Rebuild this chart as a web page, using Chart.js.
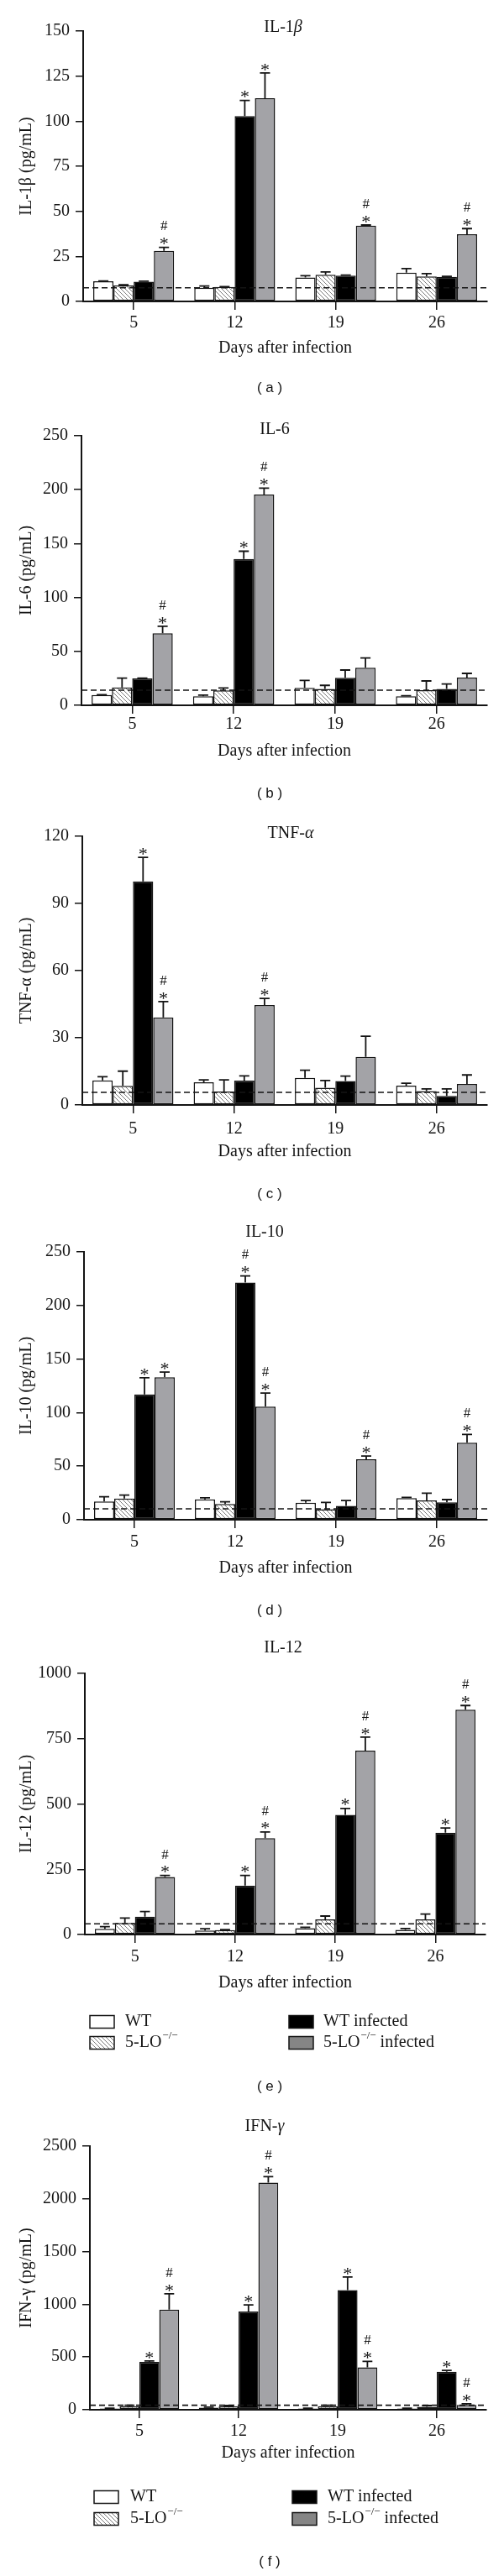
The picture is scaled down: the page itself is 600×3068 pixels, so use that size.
<!DOCTYPE html>
<html>
<head>
<meta charset="utf-8">
<script src="https://cdn.jsdelivr.net/npm/chart.js@4.4.1/dist/chart.umd.min.js"></script>
<style>
  html, body { margin: 0; padding: 0; background: #fff; }
  #fig { position: relative; width: 600px; height: 3068px; }
  #fig canvas { position: absolute; left: 0; }
</style>
</head>
<body>
<div id="fig"></div>
<script>
/* Cytokine levels after infection, six panels (a-f), 4 groups x 4 days. */

const DAYS = ['5', '12', '19', '26'];
const GROUPS = ['WT', '5-LO−/−', 'WT infected', '5-LO−/− infected'];

// rows = groups (WT, 5-LO, WT infected, 5-LO infected), cols = days
// (a) IL-1β
const IL1B_MEAN = [[11.2, 7.6, 13.3, 15.9], [8.9, 8.0, 14.8, 13.9], [10.9, 102.8, 14.3, 13.6], [28.1, 112.7, 42.1, 37.3]];
const IL1B_SEM  = [[0.2, 1.0, 1.0, 2.3], [0.4, 0.2, 1.6, 1.5], [0.3, 8.7, 0.3, 0.3], [1.9, 14.1, 0.3, 3.1]];
const IL1B_MARKS = [['', '', '', ''], ['', '', '', ''], ['', '*', '', ''], ['*#', '*', '*#', '*#']];
const IL1B_LIMIT = 7.6;
const IL1B_AXIS = [0, 150, 25];

// (b) IL-6
const IL6_MEAN = [[9.6, 8.3, 16.1, 8.3], [16.6, 13.8, 15.1, 14.0], [24.9, 135.7, 25.5, 15.1], [66.8, 195.4, 34.8, 25.7]];
const IL6_SEM  = [[0.3, 1.1, 7.0, 0.5], [8.6, 2.3, 3.4, 8.6], [0.3, 7.2, 7.2, 4.7], [6.5, 6.0, 9.1, 3.9]];
const IL6_MARKS = [['', '', '', ''], ['', '', '', ''], ['', '*', '', ''], ['*#', '*#', '', '']];
const IL6_LIMIT = 14;
const IL6_AXIS = [0, 250, 50];

// (c) TNF-α
const TNF_MEAN = [[11.0, 10.1, 12.1, 8.6], [8.5, 6.0, 7.7, 6.2], [99.8, 10.9, 10.7, 4.0], [39.1, 44.6, 21.5, 9.4]];
const TNF_SEM  = [[1.6, 1.1, 3.4, 1.1], [6.6, 5.2, 3.2, 1.0], [10.8, 2.1, 2.2, 3.2], [7.1, 3.0, 9.2, 4.0]];
const TNF_MARKS = [['', '', '', ''], ['', '', '', ''], ['*', '', '', ''], ['*#', '*#', '', '']];
const TNF_LIMIT = 5.6;
const TNF_AXIS = [0, 120, 30];

// (d) IL-10
const IL10_MEAN = [[17.0, 19.0, 15.9, 20.1], [19.8, 14.6, 9.7, 18.0], [116.9, 221.3, 13.0, 16.2], [133.1, 105.7, 56.4, 72.0]];
const IL10_SEM  = [[4.4, 1.4, 2.1, 0.8], [3.2, 2.1, 6.5, 6.8], [15.7, 6.3, 5.0, 2.6], [4.7, 12.5, 3.1, 7.6]];
const IL10_MARKS = [['', '', '', ''], ['', '', '', ''], ['*', '*#', '', ''], ['*', '*#', '*#', '*#']];
const IL10_LIMIT = 10.2;
const IL10_AXIS = [0, 250, 50];

// (e) IL-12
const IL12_MEAN = [[22, 15.5, 24.3, 17.7], [44, 16.6, 57.5, 57.5], [68.5, 187, 458.6, 390], [220, 369, 704, 861]];
const IL12_SEM  = [[8, 6.5, 3.3, 5.5], [19, 2.4, 13.2, 21], [19.5, 39.5, 24.4, 17.7], [6, 24, 52, 16]];
const IL12_MARKS = [['', '', '', ''], ['', '', '', ''], ['', '*', '*', '*'], ['*#', '*#', '*#', '*#']];
const IL12_LIMIT = 40.9;
const IL12_AXIS = [0, 1000, 250];

// (f) IFN-γ
const IFNG_MEAN = [[11, 20, 11, 11], [34, 34, 34, 28], [453.5, 932.5, 1134, 360], [949.5, 2154, 402.5, 45]];
const IFNG_SEM  = [[3, 5, 3, 3], [8, 6, 8, 12], [8.5, 62.5, 124.5, 14], [150.5, 57, 56.5, 12]];
const IFNG_MARKS = [['', '', '', ''], ['', '', '', ''], ['*', '*', '*', '*'], ['*#', '*#', '*#', '*#']];
const IFNG_LIMIT = 42.5;
const IFNG_AXIS = [0, 2500, 500];

const INK = '#141414';
const GRAY = '#a3a3a7';
const LEGEND_GRAY = '#858585';
const SERIF = "'Liberation Serif', 'DejaVu Serif', serif";
const SANS = "'Liberation Sans', 'DejaVu Sans', sans-serif";

function hatchPattern() {
  const c = document.createElement('canvas');
  c.width = 5; c.height = 5;
  const g = c.getContext('2d');
  g.fillStyle = '#fff';
  g.fillRect(0, 0, 5, 5);
  g.strokeStyle = '#6a6a6a';
  g.lineWidth = 0.9;
  g.beginPath();
  g.moveTo(-1, -1); g.lineTo(6, 6);
  g.moveTo(-3.5, 1.5); g.lineTo(3.5, 8.5);
  g.moveTo(1.5, -3.5); g.lineTo(8.5, 3.5);
  g.stroke();
  return g.createPattern(c, 'repeat');
}
const HATCH = hatchPattern();
const FILLS = ['#ffffff', HATCH, '#000000', GRAY];
const LEGEND_FILLS = ['#ffffff', HATCH, '#000000', LEGEND_GRAY];

// layout of each panel on the page (canvas-relative pixels)
const PANELS = [
  { tag: 'a', mean: IL1B_MEAN, sem: IL1B_SEM, marks: IL1B_MARKS, limit: IL1B_LIMIT, axis: IL1B_AXIS,
    title: [['IL-1', false], ['β', true]], yTitle: 'IL-1β (pg/mL)',
    top: 0, h: 480, plotTop: 37, zero: 359, left: 99, right: 580, tickOff: 26, xTitleOff: 56, titleX: 337, titleY: 33, labelY: 462 },
  { tag: 'b', mean: IL6_MEAN, sem: IL6_SEM, marks: IL6_MARKS, limit: IL6_LIMIT, axis: IL6_AXIS,
    title: [['IL-6', false]], yTitle: 'IL-6 (pg/mL)',
    top: 480, h: 490, plotTop: 39, zero: 360, left: 97, right: 580, tickOff: 23, xTitleOff: 55, titleX: 327, titleY: 32, labelY: 465 },
  { tag: 'c', mean: TNF_MEAN, sem: TNF_SEM, marks: TNF_MARKS, limit: TNF_LIMIT, axis: TNF_AXIS,
    title: [['TNF-', false], ['α', true]], yTitle: 'TNF-α (pg/mL)',
    top: 970, h: 480, plotTop: 26, zero: 346, left: 98, right: 580, tickOff: 29, xTitleOff: 56, titleX: 346, titleY: 23, labelY: 452 },
  { tag: 'd', mean: IL10_MEAN, sem: IL10_SEM, marks: IL10_MARKS, limit: IL10_LIMIT, axis: IL10_AXIS,
    title: [['IL-10', false]], yTitle: 'IL-10 (pg/mL)',
    top: 1450, h: 490, plotTop: 41, zero: 360, left: 100, right: 580, tickOff: 27, xTitleOff: 58, titleX: 315, titleY: 18, labelY: 468 },
  { tag: 'e', mean: IL12_MEAN, sem: IL12_SEM, marks: IL12_MARKS, limit: IL12_LIMIT, axis: IL12_AXIS,
    title: [['IL-12', false]], yTitle: 'IL-12 (pg/mL)',
    top: 1940, h: 570, plotTop: 53, zero: 364, left: 101, right: 578, tickOff: 27, xTitleOff: 58, titleX: 337, titleY: 23, labelY: 545,
    legend: { rows: [468, 493], boxX: [107, 344], textX: [149, 385] } },
  { tag: 'f', mean: IFNG_MEAN, sem: IFNG_SEM, marks: IFNG_MARKS, limit: IFNG_LIMIT, axis: IFNG_AXIS,
    title: [['IFN-', false], ['γ', true]], yTitle: 'IFN-γ (pg/mL)',
    top: 2510, h: 558, plotTop: 46, zero: 360, left: 107, right: 579, tickOff: 26, xTitleOff: 52, titleX: 315, titleY: 23, labelY: 541,
    legend: { rows: [464, 490], boxX: [112, 348], textX: [155, 390] } },
];

function richWidth(ctx, segs, size) {
  let w = 0;
  segs.forEach(([t, it]) => {
    ctx.font = (it ? 'italic ' : '') + size + 'px ' + SERIF;
    w += ctx.measureText(t).width;
  });
  return w;
}

function drawRich(ctx, segs, cx, cy, size) {
  let x = cx - richWidth(ctx, segs, size) / 2;
  ctx.textBaseline = 'middle';
  ctx.textAlign = 'left';
  segs.forEach(([t, it]) => {
    ctx.font = (it ? 'italic ' : '') + size + 'px ' + SERIF;
    ctx.fillText(t, x, cy);
    x += ctx.measureText(t).width;
  });
}

// label with a raised "−/−" part
function drawGroupLabel(ctx, label, x, y) {
  const parts = label.split('−/−');
  ctx.textAlign = 'left';
  ctx.textBaseline = 'middle';
  ctx.fillStyle = INK;
  ctx.font = '20px ' + SERIF;
  ctx.fillText(parts[0], x, y);
  if (parts.length < 2) return;
  x += ctx.measureText(parts[0]).width + 1;
  ctx.font = '13px ' + SERIF;
  ctx.fillText('−/−', x, y - 8);
  x += ctx.measureText('−/−').width;
  ctx.font = '20px ' + SERIF;
  ctx.fillText(parts[1], x, y);
}

const figureDecor = {
  id: 'figureDecor',
  afterDatasetsDraw(chart, args, opts) {
    const { ctx, chartArea } = chart;
    const y = chart.scales.y;
    ctx.save();

    // error bars (upper half only)
    ctx.strokeStyle = INK;
    ctx.lineWidth = 1.8;
    chart.data.datasets.forEach((ds, i) => {
      chart.getDatasetMeta(i).data.forEach((bar, j) => {
        const top = y.getPixelForValue(ds.data[j] + ds.sem[j]);
        const half = bar.width * 0.25;
        ctx.beginPath();
        ctx.moveTo(bar.x, bar.y);
        ctx.lineTo(bar.x, top);
        ctx.moveTo(bar.x - half, top);
        ctx.lineTo(bar.x + half, top);
        ctx.stroke();

        // significance marks
        const m = ds.marks[j];
        ctx.fillStyle = INK;
        ctx.textAlign = 'center';
        ctx.textBaseline = 'alphabetic';
        if (m.includes('*')) {
          ctx.font = '22px ' + SERIF;
          ctx.fillText('*', bar.x, top - 9 + 11.7);
        }
        if (m.includes('#')) {
          ctx.font = '17px ' + SERIF;
          ctx.fillText('#', bar.x, top - 26 + 5.8);
        }
      });
    });

    // detection limit
    const ly = y.getPixelForValue(opts.limit);
    ctx.setLineDash([7, 4]);
    ctx.lineWidth = 1.6;
    ctx.strokeStyle = INK;
    ctx.beginPath();
    ctx.moveTo(chartArea.left, ly);
    ctx.lineTo(chartArea.right, ly);
    ctx.stroke();
    ctx.setLineDash([]);
    ctx.restore();
  },
  afterDraw(chart, args, opts) {
    const { ctx } = chart;
    ctx.save();
    ctx.fillStyle = INK;
    drawRich(ctx, opts.title, opts.titleX, opts.titleY, 20);

    ctx.font = '17px ' + SANS;
    ctx.textAlign = 'center';
    ctx.textBaseline = 'middle';
    ctx.fillText('( ' + opts.tag + ' )', 321, opts.labelY);

    const lg = opts.legend;
    if (lg) {
      chart.data.datasets.forEach((ds, i) => {
        const col = i < 2 ? 0 : 1;
        const row = i % 2;
        const bx = lg.boxX[col];
        const by = lg.rows[row] - 7.5;
        ctx.fillStyle = LEGEND_FILLS[i];
        ctx.fillRect(bx, by, 29, 15);
        ctx.strokeStyle = INK;
        ctx.lineWidth = 1.5;
        ctx.strokeRect(bx, by, 29, 15);
        drawGroupLabel(ctx, ds.label, lg.textX[col], lg.rows[row]);
      });
    }
    ctx.restore();
  },
};

const fig = document.getElementById('fig');

PANELS.forEach(p => {
  const canvas = document.createElement('canvas');
  canvas.width = 600;
  canvas.height = p.h;
  canvas.style.top = p.top + 'px';
  fig.appendChild(canvas);

  const xAxisH = p.xTitleOff + 12;

  new Chart(canvas, {
    type: 'bar',
    data: {
      labels: DAYS,
      datasets: GROUPS.map((g, i) => ({
        label: g,
        data: p.mean[i],
        sem: p.sem[i],
        marks: p.marks[i],
        backgroundColor: FILLS[i],
        borderColor: INK,
        borderWidth: 1.5,
        borderSkipped: false,
        categoryPercentage: 0.8,
        barPercentage: 1.0,
      })),
    },
    options: {
      responsive: false,
      animation: false,
      devicePixelRatio: 1,
      layout: {
        padding: { top: p.plotTop, left: 0, right: 600 - p.right, bottom: p.h - (p.zero + xAxisH) },
      },
      plugins: {
        legend: { display: false },
        tooltip: { enabled: false },
        figureDecor: {
          tag: p.tag, limit: p.limit, title: p.title, titleX: p.titleX, titleY: p.titleY,
          labelY: p.labelY, legend: p.legend,
        },
      },
      scales: {
        x: {
          offset: true,
          afterFit: s => { s.height = xAxisH; },
          grid: { offset: false, drawOnChartArea: false, drawTicks: true, tickLength: 10, color: INK, lineWidth: 1.5 },
          border: { display: true, color: INK, width: 2 },
          ticks: { color: INK, font: { family: SERIF, size: 20 }, padding: p.tickOff - 22, maxRotation: 0 },
          title: { display: true, text: 'Days after infection', color: INK, font: { family: SERIF, size: 20 }, padding: { top: 0, bottom: 0 } },
        },
        y: {
          min: p.axis[0],
          max: p.axis[1],
          afterFit: s => { s.width = p.left; },
          grid: { drawOnChartArea: false, drawTicks: true, tickLength: 9, color: INK, lineWidth: 1.5 },
          border: { display: true, color: INK, width: 2 },
          ticks: { stepSize: p.axis[2], color: INK, font: { family: SERIF, size: 20 }, padding: 7, callback: v => String(v) },
          title: { display: true, text: p.yTitle, color: INK, font: { family: SERIF, size: 20 }, padding: { top: 20, bottom: 0 } },
        },
      },
    },
    plugins: [figureDecor],
  });
});
</script>
</body>
</html>
